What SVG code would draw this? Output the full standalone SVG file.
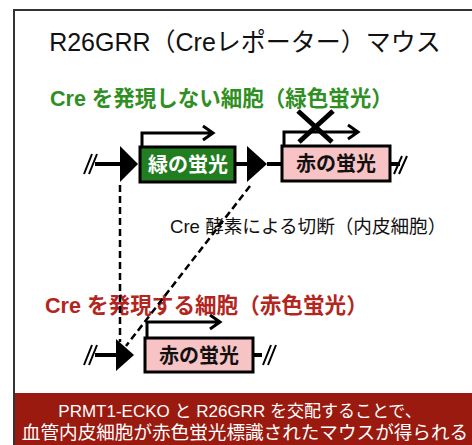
<svg xmlns="http://www.w3.org/2000/svg" width="472" height="445" viewBox="0 0 472 445">
<style>
.t{font-family:"Liberation Sans","Noto Sans CJK JP",sans-serif}
.ln{stroke:#000;stroke-width:4;fill:none}
.sl{stroke:#000;stroke-width:2;fill:none}
.pr{stroke:#000;stroke-width:3;fill:none}
.dash{stroke:#000;stroke-width:2.5;fill:none;stroke-dasharray:7 4}
.box{stroke:#000;stroke-width:3}
.lbl{font-size:20px;font-weight:bold;text-anchor:middle}
</style>
<rect x="0" y="0" width="472" height="445" fill="#fff"/>
<rect x="14" y="10" width="470" height="445" fill="none" stroke="#333" stroke-width="2"/>
<rect x="15" y="393" width="457" height="52" fill="#9b1a10"/>
<text class="t" x="245" y="51" font-size="25" text-anchor="middle" fill="#111">R26GRR（Creレポーター）マウス</text>
<text class="t" x="50" y="106" font-size="21.5" font-weight="bold" fill="#2f8f22">Cre を発現しない細胞（緑色蛍光）</text>
<text class="t" x="170" y="233" font-size="18.6" fill="#111">Cre 酵素による切断（内皮細胞）</text>
<text class="t" x="45" y="313" font-size="21.6" font-weight="bold" fill="#b3261e">Cre を発現する細胞（赤色蛍光）</text>
<g id="connectors">
<path class="dash" d="M120,185 V342"/>
<path class="dash" d="M250,186 L126,346"/>
</g>
<g id="row1">
<path class="ln" d="M95,164 H120 M235,164 H247 M267,164 H282 M390,164 H400"/>
<path class="sl" d="M84,174 L92,154 M89,174 L97,154"/>
<path class="sl" d="M394,174 L402,156 M399,174 L407,156"/>
<polygon points="120,146 138,164 120,182"/>
<polygon points="247,146 267,164 247,182"/>
</g>
<g id="green-box">
<rect class="box" x="140" y="147" width="95" height="35" fill="#217d1f"/>
<text class="t lbl" x="188" y="172" fill="#fff">緑の蛍光</text>
<path class="pr" d="M142,147 V133 H212 M203,126 L213,133 L203,140"/>
</g>
<g id="red-box-1">
<rect class="box" x="282" y="146" width="108" height="35" fill="#f8c3c4"/>
<text class="t lbl" x="336" y="171" fill="#111">赤の蛍光</text>
<path class="pr" d="M284,146 V132 H357 M348,125 L358,132 L348,139"/>
<path stroke="#000" stroke-width="5" d="M298,111 L332,142 M333,111 L299,142"/>
</g>
<g id="row2">
<path class="ln" d="M95,355 H117 M253,355 H262"/>
<path class="sl" d="M84,365 L92,345 M89,365 L97,345"/>
<path class="sl" d="M263,365 L271,345 M268,365 L276,345"/>
<polygon points="116,339 134,355 116,371"/>
</g>
<g id="red-box-2">
<rect class="box" x="145" y="338" width="108" height="34" fill="#f8c3c4"/>
<text class="t lbl" x="199" y="363" fill="#111">赤の蛍光</text>
<path class="pr" d="M147,338 V322 H219 M210,315 L220,322 L210,329"/>
</g>
<g id="note">
<text class="t" x="240" y="417" font-size="17" text-anchor="middle" fill="#fff">PRMT1-ECKO と R26GRR を交配することで、</text>
<text class="t" x="245" y="439" font-size="18.6" text-anchor="middle" fill="#fff">血管内皮細胞が赤色蛍光標識されたマウスが得られる</text>
</g>
</svg>
